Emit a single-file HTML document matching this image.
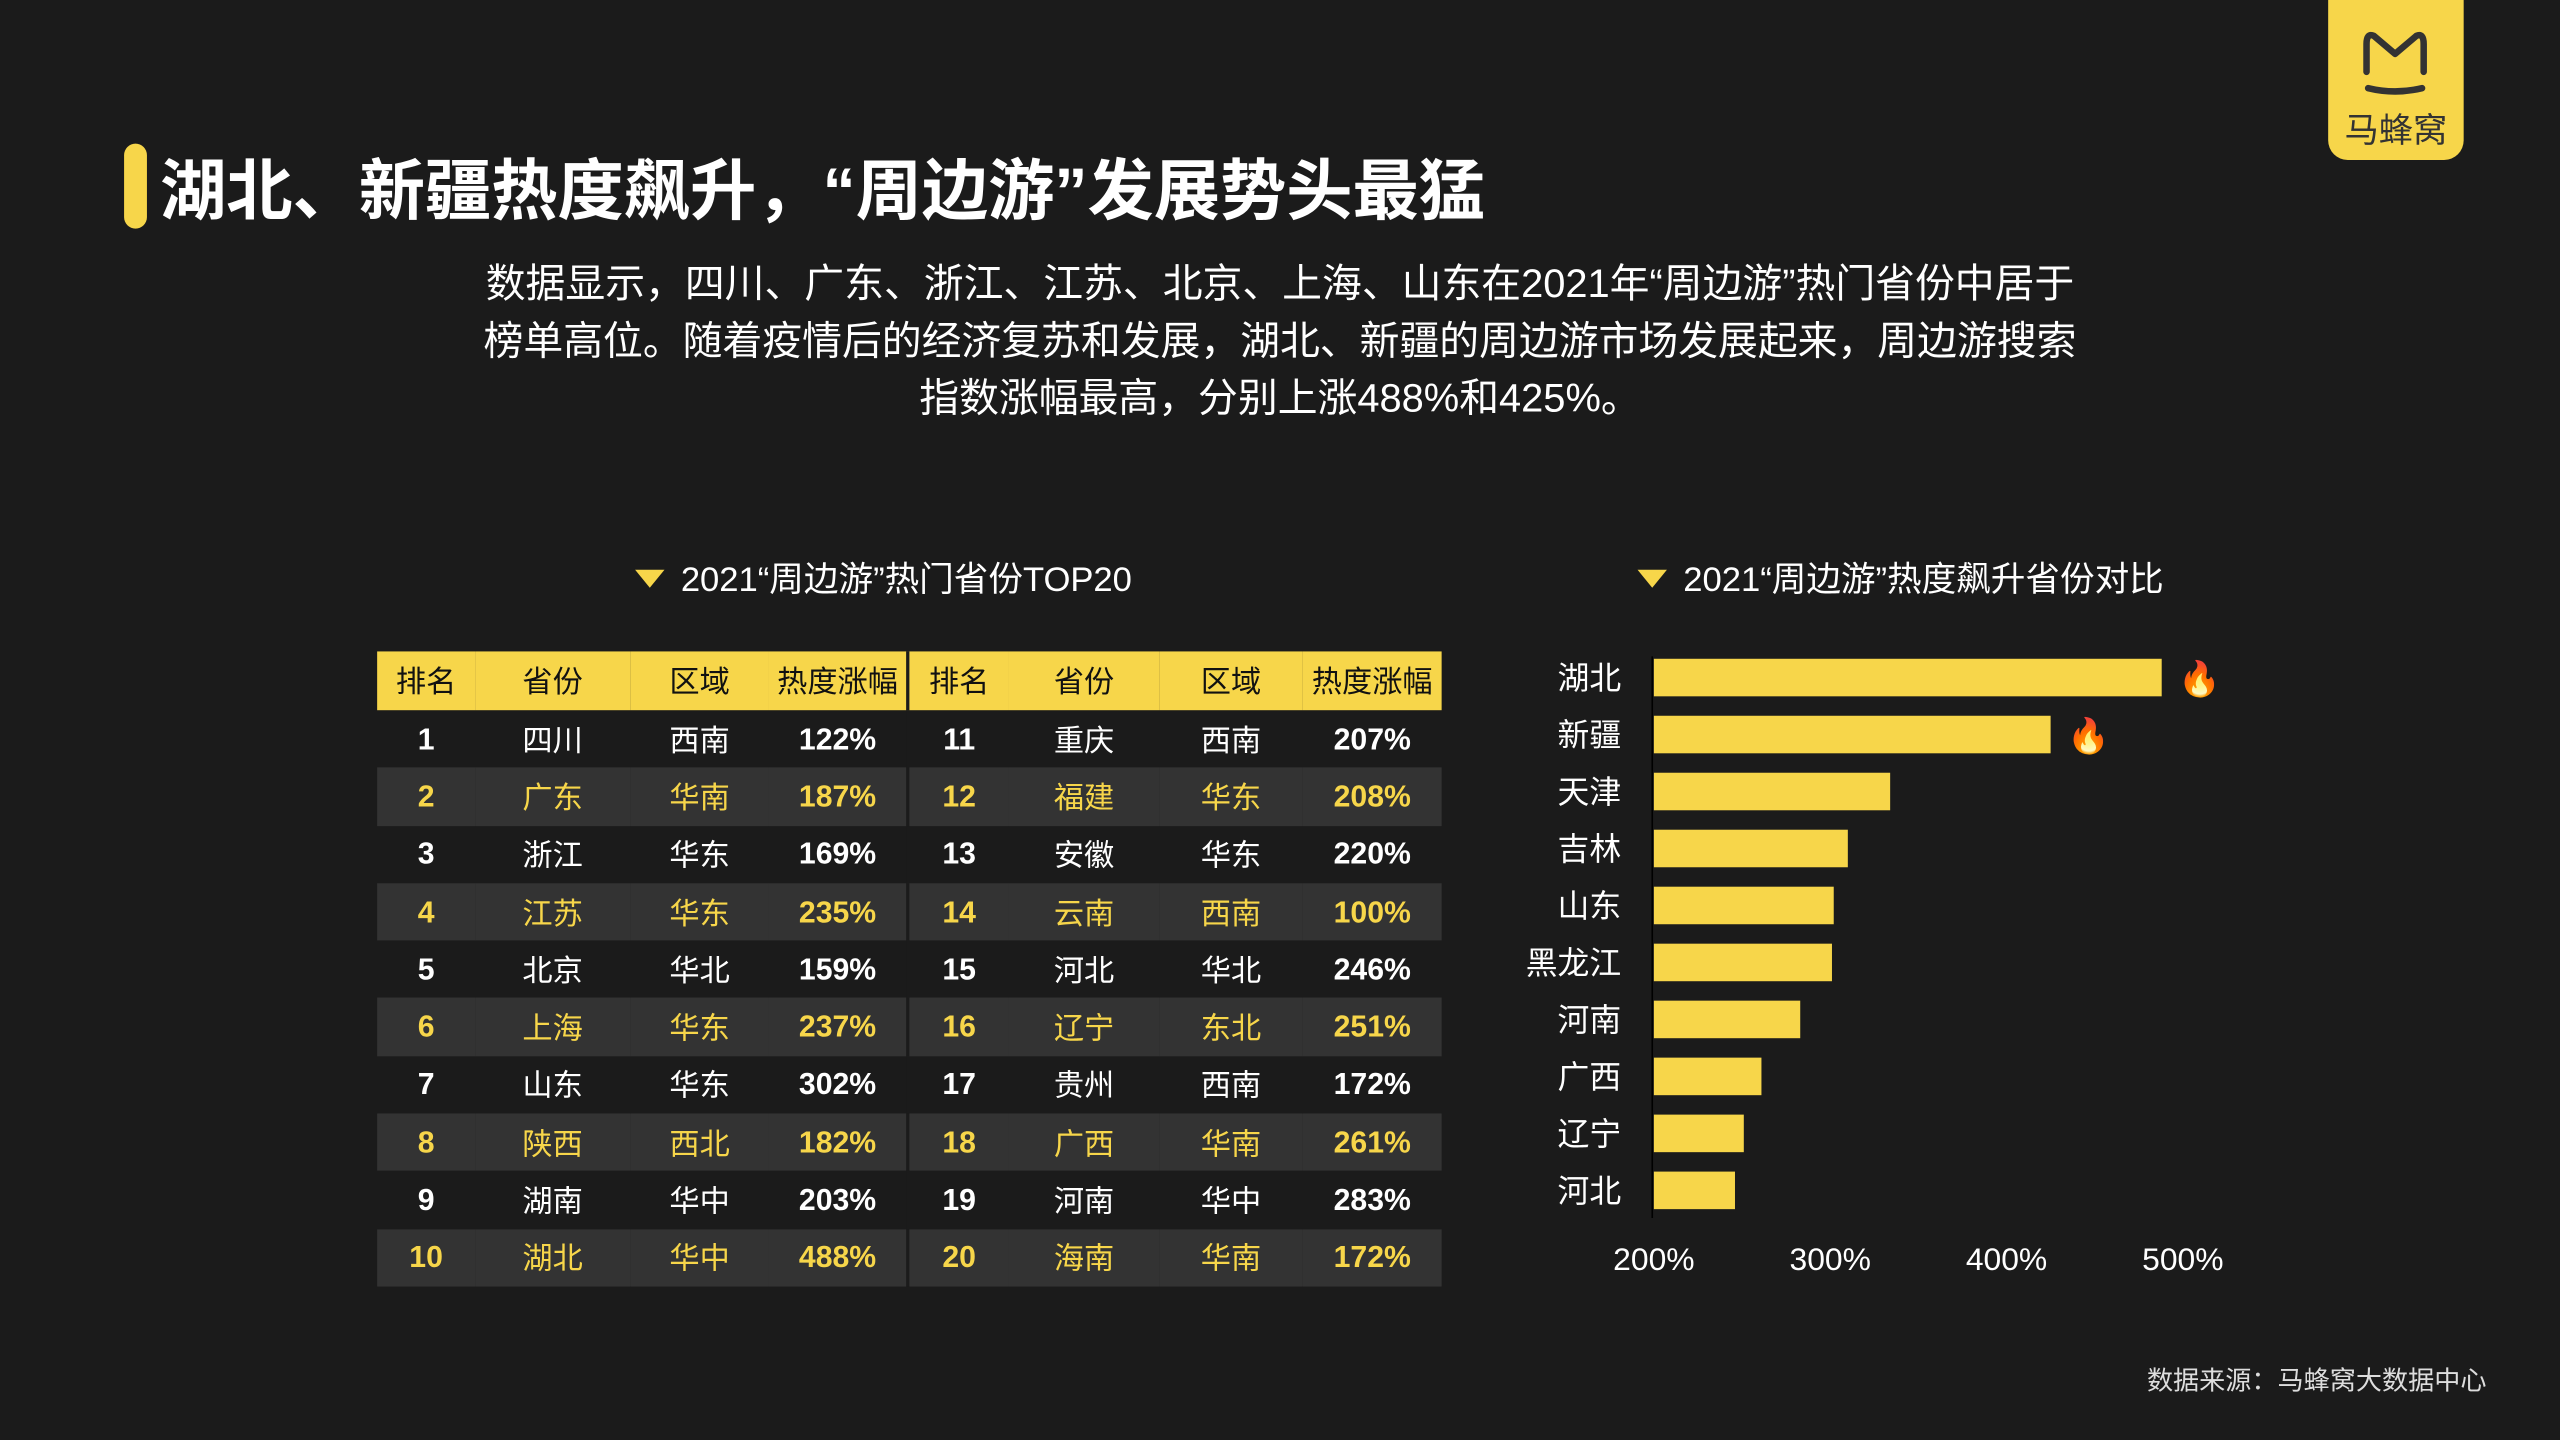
<!DOCTYPE html>
<html><head><meta charset="utf-8">
<style>
html,body{margin:0;padding:0;background:#1b1b1b;overflow:hidden;}
body{width:2560px;height:1440px;}
#root{position:absolute;left:0;top:0;width:1568px;height:882px;transform:scale(1.632653);transform-origin:0 0;font-family:"Liberation Sans","Noto Sans CJK SC",sans-serif;color:#fff;}
.abs{position:absolute;}
.title{left:98px;top:84px;font-size:40.6px;font-weight:bold;white-space:nowrap;}
.para{left:200px;width:1168px;top:157px;font-size:24.4px;line-height:35px;text-align:center;}
.sub{font-size:21.2px;white-space:nowrap;}
.tri{display:inline-block;width:0;height:0;border-left:9px solid transparent;border-right:9px solid transparent;border-top:11px solid #f7d64a;margin-right:10px;vertical-align:middle;position:relative;top:-2px;}
table{border-collapse:collapse;position:absolute;left:231px;top:399px;width:652px;table-layout:fixed;}
td,th{height:35.3px;padding:0;text-align:center;font-size:18.5px;}
th{background:#f7d64a;color:#111;font-weight:normal;height:36px;}
tr.alt td{background:#333;color:#f7d64a;}
td.n{font-weight:bold;}
.sep{border-left:2px solid #1b1b1b;}
.logo{left:1426px;top:0;width:83px;height:98px;background:#f7d64a;border-radius:0 0 12px 12px;}
</style></head><body>
<div id="root">
<div class="abs logo">
<svg width="83" height="60" style="position:absolute;left:0;top:0">
<path d="M23.5 44 V 27 Q23.5 20 28 22 L41 33 L54 22 Q58.5 20 58.5 27 V 44" fill="none" stroke="#333" stroke-width="4" stroke-linecap="round" stroke-linejoin="round"/>
<path d="M24.5 54 Q41 58 57.5 54" fill="none" stroke="#333" stroke-width="4" stroke-linecap="round"/>
</svg>
<div class="abs" style="left:0;width:83px;top:64px;text-align:center;font-size:21px;color:#333;">马蜂窝</div>
</div>
<div class="abs" style="left:76px;top:88px;width:14px;height:52px;background:#f7d64a;border-radius:7px;"></div>
<div class="abs title">湖北、新疆热度飙升，“周边游”发展势头最猛</div>
<div class="abs para">数据显示，四川、广东、浙江、江苏、北京、上海、山东在2021年“周边游”热门省份中居于<br>榜单高位。随着疫情后的经济复苏和发展，湖北、新疆的周边游市场发展起来，周边游搜索<br>指数涨幅最高，分别上涨488%和425%。</div>
<div class="abs sub" style="left:389px;top:338px;"><span class="tri"></span>2021“周边游”热门省份TOP20</div>
<div class="abs sub" style="left:1003px;top:338px;"><span class="tri"></span>2021“周边游”热度飙升省份对比</div>
<table id="tbl">
<colgroup><col style="width:60px"><col style="width:95px"><col style="width:85px"><col style="width:85px"><col style="width:62px"><col style="width:92px"><col style="width:88px"><col style="width:85px"></colgroup>
<tr><th>排名</th><th>省份</th><th>区域</th><th>热度涨幅</th><th class="sep">排名</th><th>省份</th><th>区域</th><th>热度涨幅</th></tr>
</table>
<div class="abs" style="left:1315px;top:832px;font-size:16px;color:#ddd;">数据来源：马蜂窝大数据中心</div>
<svg id="chart" class="abs" style="left:0;top:0" width="1568" height="882"></svg>
</div>
<script>
const rows=[["1","四川","西南","122%","11","重庆","西南","207%"],["2","广东","华南","187%","12","福建","华东","208%"],["3","浙江","华东","169%","13","安徽","华东","220%"],["4","江苏","华东","235%","14","云南","西南","100%"],["5","北京","华北","159%","15","河北","华北","246%"],["6","上海","华东","237%","16","辽宁","东北","251%"],["7","山东","华东","302%","17","贵州","西南","172%"],["8","陕西","西北","182%","18","广西","华南","261%"],["9","湖南","华中","203%","19","河南","华中","283%"],["10","湖北","华中","488%","20","海南","华南","172%"]];
const tbl=document.getElementById('tbl');
rows.forEach((r,i)=>{const tr=document.createElement('tr');


if(i%2)tr.className='alt';
r.forEach((v,j)=>{const td=document.createElement('td');td.textContent=v;
if(j%4==0||j%4==3)td.className='n';if(j==4)td.classList.add('sep');tr.appendChild(td);});
tbl.appendChild(tr);});

const categories=["湖北","新疆","天津","吉林","山东","黑龙江","河南","广西","辽宁","河北"];
const values=[488,425,334,310,302,301,283,261,251,246];
const ticks=[200,300,400,500];
const tickLabels=["200%","300%","400%","500%"];
const NS='http://www.w3.org/2000/svg';
const svg=document.getElementById('chart');
const x=v=>1013+(v-200)*(1337-1013)/300;
const y=i=>415+i*34.9;
function mk(t,a){const e=document.createElementNS(NS,t);for(const k in a)e.setAttribute(k,a[k]);svg.appendChild(e);return e;}
const ax=mk('line',{x1:1012,x2:1012,y1:402,y2:746,stroke:'#000','stroke-width':1});


categories.forEach((c,i)=>{
 const b=mk('rect',{x:1013,y:y(i)-11.5,width:x(values[i])-1013,height:23,fill:'#f7d64a'});
 
 
 const t=mk('text',{x:993,y:y(i)+7,'text-anchor':'end','font-size':19.5,fill:'#fff','font-family':'"Liberation Sans","Noto Sans CJK SC",sans-serif'});t.textContent=c;
 
 
 if(i<2){const f=mk('text',{x:x(values[i])+10,y:y(i)+8,'font-size':21});f.textContent='🔥';
 
 }
});
ticks.forEach((v,i)=>{const t=mk('text',{x:x(v),y:778,'text-anchor':'middle','font-size':19.5,fill:'#fff','font-family':'"Liberation Sans",sans-serif'});t.textContent=tickLabels[i];

});
</script>
</body></html>
